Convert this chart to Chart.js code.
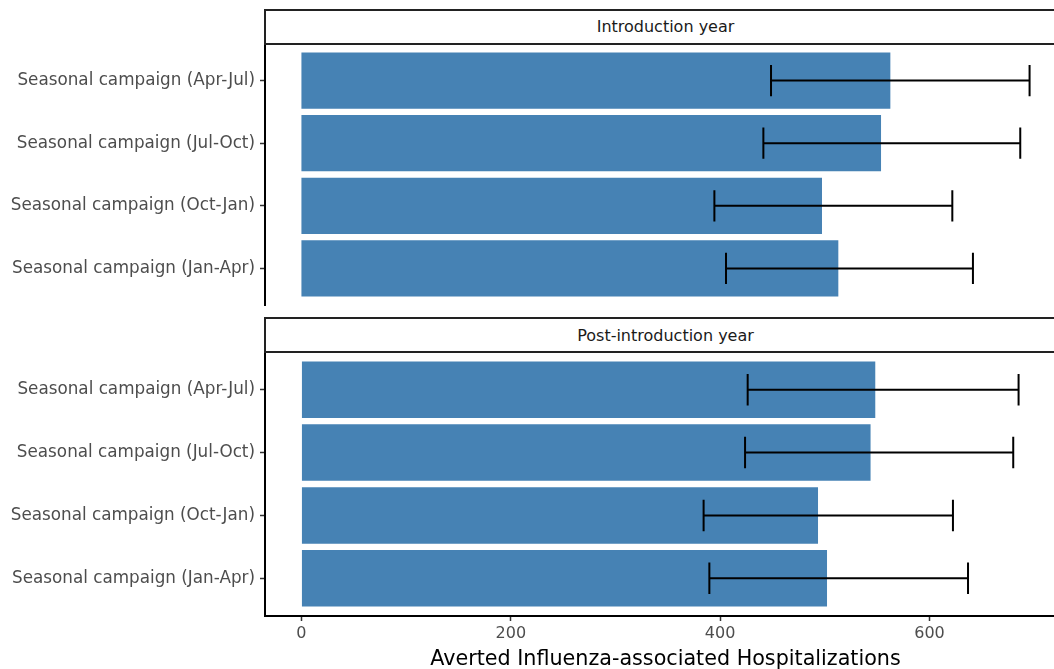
<!DOCTYPE html>
<html>
<head>
<meta charset="utf-8">
<script src="https://cdn.jsdelivr.net/npm/chart.js@4.4.0/dist/chart.umd.min.js"></script>
<style>
html,body{margin:0;padding:0;overflow:hidden;background:#fff;width:1054px;height:669px;position:relative;}
.strip{position:absolute;left:264px;width:803px;box-sizing:border-box;border:2px solid #222;background:#fff;
 font-family:"DejaVu Sans",sans-serif;font-size:16px;color:#1a1a1a;text-align:center;}
#s1{top:9px;height:36px;line-height:32px;}
#s2{top:317px;height:36px;line-height:33px;}
.wrap{position:absolute;left:0;}
#w1{top:43px;}
#w2{top:352px;}
</style>
</head>
<body>
<div class="wrap" id="w1"><canvas id="c1" width="1066" height="263"></canvas></div>
<div class="wrap" id="w2"><canvas id="c2" width="1066" height="320"></canvas></div>
<div class="strip" id="s1">Introduction year</div>
<div class="strip" id="s2">Post-introduction year</div>
<script>
const categories = ["Seasonal campaign (Apr-Jul)", "Seasonal campaign (Jul-Oct)", "Seasonal campaign (Oct-Jan)", "Seasonal campaign (Jan-Apr)"];
const panelTitles = ["Introduction year", "Post-introduction year"];
const introMean = [562.6, 553.7, 497.3, 512.9];
const introLow  = [448.6, 441.3, 394.5, 405.6];
const introHigh = [695.6, 686.7, 621.8, 641.5];
const postMean  = [548.2, 543.7, 493.5, 502.1];
const postLow   = [426.3, 423.8, 384.2, 389.7];
const postHigh  = [685.1, 680.0, 622.4, 636.8];
const xTicks = [0, 200, 400, 600];
const xTitle = "Averted Influenza-associated Hospitalizations";

Chart.defaults.font.family = "'DejaVu Sans', sans-serif";
Chart.defaults.animation = false;

const X_MIN = -34.8, X_MAX = 730.4;

const errorBars = {
  id: 'errorBars',
  afterDatasetsDraw(chart, args, opts) {
    const {ctx, scales} = chart;
    const xs = scales.x, ys = scales.y;
    const step = Math.abs(ys.getPixelForValue(2) - ys.getPixelForValue(1));
    const half = step * 0.25;
    ctx.save();
    ctx.strokeStyle = '#000';
    ctx.lineWidth = 2;
    opts.low.forEach((lo, i) => {
      const y = ys.getPixelForValue(i + 1);
      const x1 = xs.getPixelForValue(lo), x2 = xs.getPixelForValue(opts.high[i]);
      ctx.beginPath();
      ctx.moveTo(x1, y); ctx.lineTo(x2, y);
      ctx.moveTo(x1, y - half); ctx.lineTo(x1, y + half);
      ctx.moveTo(x2, y - half); ctx.lineTo(x2, y + half);
      ctx.stroke();
    });
    ctx.restore();
  }
};

function makeChart(id, mean, low, high, showX, xHeight) {
  return new Chart(document.getElementById(id), {
    type: 'bar',
    data: {
      datasets: [{
        data: mean.map((v, i) => ({x: v, y: i + 1})),
        backgroundColor: '#4682B4',
        borderWidth: 0,
        barPercentage: 0.9,
        categoryPercentage: 1.0
      }]
    },
    options: {
      indexAxis: 'y',
      responsive: false,
      animation: false,
      layout: {padding: 0},
      plugins: {legend: {display: false}, tooltip: {enabled: false}, errorBars: {low, high}},
      scales: {
        y: {
          type: 'linear',
          min: 0.4, max: 4.6,
          reverse: true,
          offset: false,
          afterBuildTicks(s) { s.ticks = categories.map((c, i) => ({value: i + 1})); },
          afterFit(s) { s.width = 265; s.paddingTop = 0; s.paddingBottom = 0; },
          ticks: {
            callback: (v) => categories[v - 1],
            color: '#4d4d4d',
            font: {size: 16.8},
            padding: 5,
            autoSkip: false
          },
          grid: {offset: false, drawOnChartArea: false, drawTicks: true, tickLength: 5, tickColor: '#333', tickWidth: 1.5},
          border: {display: true, color: '#000', width: 2}
        },
        x: {
          type: 'linear',
          display: showX,
          min: X_MIN, max: X_MAX,
          afterBuildTicks(s) { s.ticks = xTicks.map(v => ({value: v})); },
          afterFit(s) { s.height = xHeight; s.paddingLeft = 0; s.paddingRight = 0; },
          ticks: {color: '#4d4d4d', font: {size: 16}, padding: 3, autoSkip: false},
          grid: {drawOnChartArea: false, drawTicks: true, tickLength: 5, tickColor: '#333', tickWidth: 1.5},
          border: {display: true, color: '#000', width: 2},
          title: {display: true, text: xTitle, color: '#000', font: {size: 20.7}, padding: {top: 0, bottom: 0}}
        }
      }
    },
    plugins: [errorBars]
  });
}

makeChart('c1', introMean, introLow, introHigh, false, 0);
makeChart('c2', postMean, postLow, postHigh, true, 56);
</script>
</body>
</html>
